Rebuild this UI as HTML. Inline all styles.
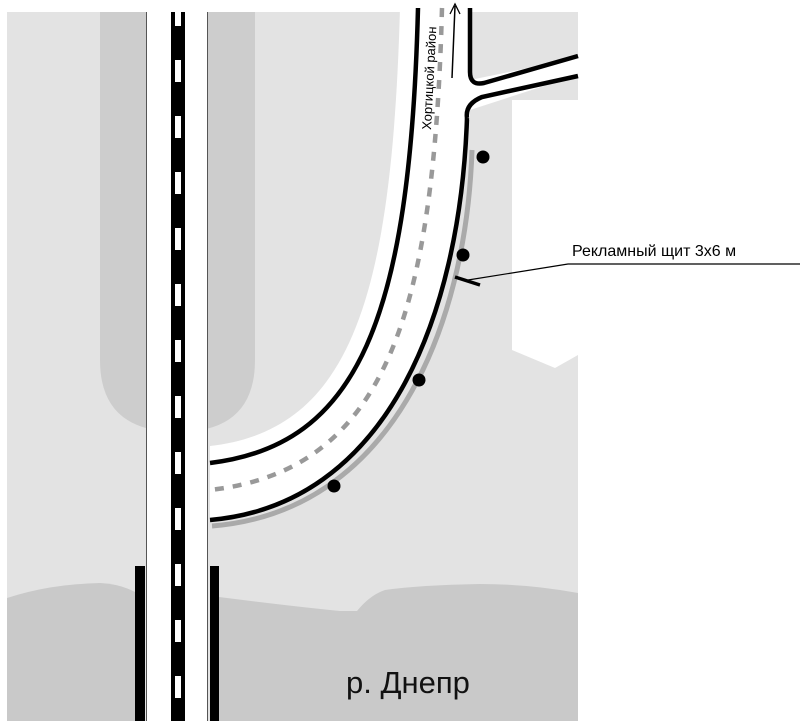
<!DOCTYPE html>
<html><head><meta charset="utf-8"><style>html,body{margin:0;padding:0;background:#fff}svg{display:block}</style></head>
<body>
<svg width="800" height="721" viewBox="0 0 800 721" xmlns="http://www.w3.org/2000/svg">
<rect x="0" y="0" width="800" height="721" fill="#fff"/>
<rect x="7" y="12" width="571" height="709" fill="#e3e3e3"/>
<path d="M512,100 L578,100 L578,355 L555,368 L512,350 Z" fill="#fff"/>
<path d="M100,12 L255,12 L255,360 Q255,432 178,432 Q100,432 100,360 Z" fill="#cdcdcd"/>
<path d="M7,598 Q50,584 100,583 Q120,584 135,592 L135,721 L7,721 Z" fill="#c9c9c9"/>
<path d="M219,597 Q290,606 340,611 L357,611 Q370,595 385,590 Q420,585 480,584 Q530,584 578,593 L578,721 L219,721 Z" fill="#c9c9c9"/>
<path d="M467,118 C460,320 385,505 210,520 L210,446 C350,430 392,300 400,8 L470,8 Z" fill="#fff"/>
<path d="M472,150 C466,330 390,512 212,526" fill="none" stroke="#aaa" stroke-width="5"/>
<path d="M440,100 L470,80 L578,58 L578,75 L470,110 Z" fill="#fff"/>
<rect x="418" y="0" width="52" height="120" fill="#fff"/>
<path d="M467,118 C460,320 385,505 210,520" fill="none" stroke="#000" stroke-width="4.5"/>
<path d="M418,8 C410,320 358,445 210,463" fill="none" stroke="#000" stroke-width="4.5"/>
<path d="M442,8 C434,310 388,470 210,490" fill="none" stroke="#999" stroke-width="4.5" stroke-dasharray="9,9"/>
<path d="M470,8 L470,72 Q470,86 484,83 L578,56" fill="none" stroke="#000" stroke-width="4.5"/>
<path d="M467,118 Q465,104 482,97 L578,76" fill="none" stroke="#000" stroke-width="4.5"/>
<line x1="452" y1="78" x2="455" y2="6" stroke="#000" stroke-width="1.5"/>
<path d="M450,14 L455,4 L460,14" fill="none" stroke="#000" stroke-width="1.3"/>
<text transform="translate(431,130) rotate(-87)" font-family="Liberation Sans, sans-serif" font-size="13" fill="#000">Хортицкой район</text>
<rect x="146" y="0" width="62" height="721" fill="#fff"/>
<line x1="146.5" y1="12" x2="146.5" y2="721" stroke="#555" stroke-width="1"/>
<line x1="207.5" y1="12" x2="207.5" y2="721" stroke="#555" stroke-width="1"/>
<rect x="171" y="12" width="14" height="709" fill="#000"/>
<line x1="178" y1="4" x2="178" y2="721" stroke="#fff" stroke-width="6" stroke-dasharray="22,34"/>
<rect x="135" y="566" width="10" height="155" fill="#000"/>
<rect x="210" y="566" width="9" height="155" fill="#000"/>
<circle cx="483" cy="157" r="6.5" fill="#000"/>
<circle cx="463" cy="255" r="6.5" fill="#000"/>
<circle cx="419" cy="380" r="6.5" fill="#000"/>
<circle cx="334" cy="486" r="6.5" fill="#000"/>
<line x1="455" y1="277" x2="480" y2="285" stroke="#000" stroke-width="3.5"/>
<polyline points="468,280 568,264 800,264" fill="none" stroke="#000" stroke-width="1.2"/>
<text x="572" y="256" font-family="Liberation Sans, sans-serif" font-size="16" fill="#000">Рекламный щит 3х6 м</text>
<text x="346" y="693" font-family="Liberation Sans, sans-serif" font-size="31" fill="#111">р. Днепр</text>
</svg>
</body></html>
